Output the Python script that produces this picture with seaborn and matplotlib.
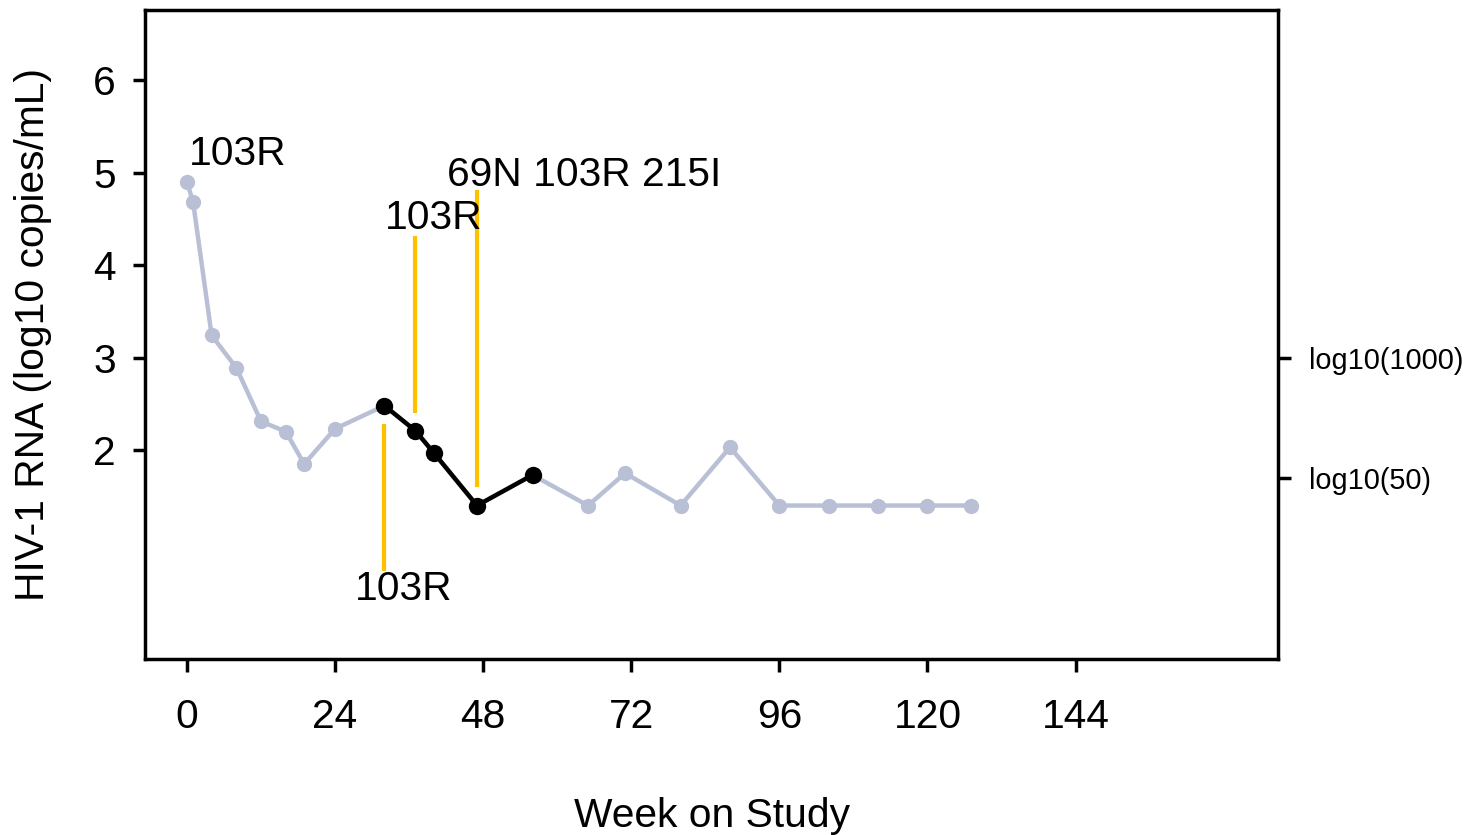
import numpy as np
import pandas as pd
import seaborn as sns
import matplotlib.pyplot as plt

# viral load over time (weeks, log10 copies/mL)
weeks = [0, 1, 4, 8, 12, 16, 19, 24, 32, 37, 40, 47, 56, 65, 71, 80, 88, 96, 104, 112, 120, 127]
log_rna = [4.90, 4.68, 3.24, 2.89, 2.31, 2.20, 1.85, 2.23, 2.48, 2.21, 1.97, 1.40, 1.73,
           1.40, 1.75, 1.40, 2.03, 1.40, 1.40, 1.40, 1.40, 1.40]
# weeks highlighted in black
black_from, black_to = 32, 56

# mutation annotations: text, x, y, and yellow lines (x, y0, y1)
mut_labels = ['103R', '103R', '103R', '69N 103R 215I']
mut_x = [8.2, 35.1, 40.0, 64.3]
mut_y = [5.20, 0.50, 4.51, 4.98]
mut_line_x = [32, 37, 47]
mut_line_y0 = [2.28, 2.40, 1.60]
mut_line_y1 = [0.69, 4.32, 4.81]

x_ticks = [0, 24, 48, 72, 96, 120, 144]
y_ticks = [2, 3, 4, 5, 6]
right_ticks = [np.log10(1000), np.log10(50)]
right_labels = ['log10(1000)', 'log10(50)']

df = pd.DataFrame({'week': weeks, 'rna': log_rna})
df_black = df[(df.week >= black_from) & (df.week <= black_to)]

sns.set_style('white')
plt.rcParams['font.family'] = ['Liberation Sans', 'DejaVu Sans']
plt.rcParams['text.color'] = 'black'

FS = 29.3

fig = plt.figure(figsize=(14.74, 8.35), dpi=100)
ax = fig.add_axes([145 / 1474, 1 - 659 / 835, (1278 - 145) / 1474, (659 - 10) / 835])

grey = '#b9bfd5'
sns.lineplot(data=df, x='week', y='rna', ax=ax, color=grey, lw=3.2,
             marker='o', markersize=11, markeredgewidth=0, sort=False)
sns.lineplot(data=df_black, x='week', y='rna', ax=ax, color='black', lw=3.2,
             marker='o', markersize=12.5, markeredgewidth=0, sort=False)

ax.vlines(mut_line_x, mut_line_y0, mut_line_y1, color='#ffc000', lw=3.0)
for t, x, y in zip(mut_labels, mut_x, mut_y):
    ax.text(x, y, t, ha='center', va='center', fontsize=FS, color='black')

ax.set_xlim(-6.8, 176.8)
ax.set_ylim(-0.26, 6.76)
ax.set_xticks(x_ticks)
ax.set_yticks(y_ticks)
ax.tick_params(axis='both', labelsize=FS, length=9, width=2.5, direction='out',
               colors='black', left=True, bottom=True)
ax.tick_params(axis='x', pad=19)
ax.tick_params(axis='y', pad=12)
for s in ax.spines.values():
    s.set_linewidth(2.5)
    s.set_color('black')

ax2 = ax.twinx()
ax2.set_ylim(ax.get_ylim())
ax2.set_yticks(right_ticks)
ax2.set_yticklabels(right_labels)
ax2.tick_params(axis='y', labelsize=20.8, length=9, width=2.5, pad=13, right=True,
                colors='black')
for s in ax2.spines.values():
    s.set_visible(False)

ax.set_xlabel('Week on Study', fontsize=FS, color='black')
ax.set_ylabel('HIV-1 RNA (log10 copies/mL)', fontsize=FS, color='black')
ax.xaxis.set_label_coords(0.5, -0.212)
ax.yaxis.set_label_coords(-0.082, 0.5)

fig.savefig('out.png', dpi=100)
